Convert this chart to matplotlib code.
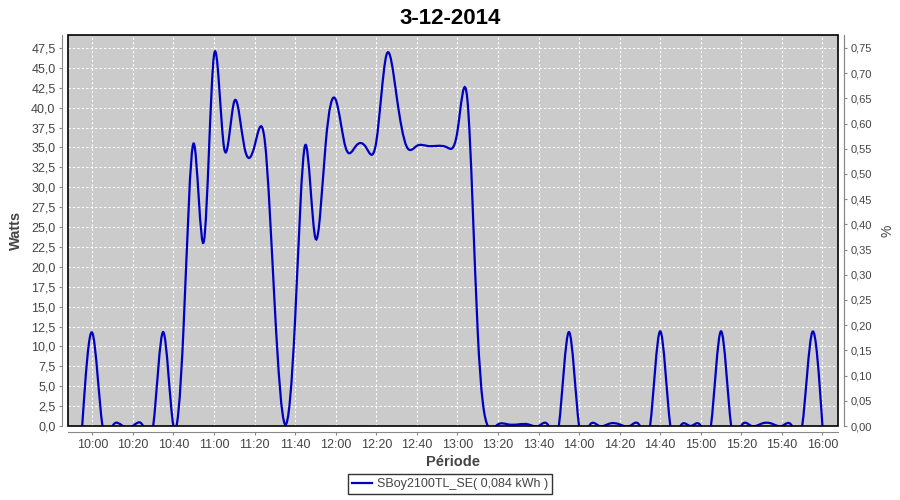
import numpy as np
import pandas as pd
import matplotlib
matplotlib.use("Agg")
import matplotlib.pyplot as plt
import matplotlib.dates as mdates
from matplotlib.path import Path
from matplotlib.patches import PathPatch, Rectangle
from matplotlib.lines import Line2D
from matplotlib.ticker import FuncFormatter, MultipleLocator

# 5 minute samples, 09:55 -> 16:00
times = pd.date_range("2014-12-03 09:55", "2014-12-03 16:00", freq="5min")
watts = [
    0.0, 11.7, 0.0, 0.0, 0.0, 0.0, 0.0, 0.0,          # 09:55 - 10:30
    11.8, 0.0, 12.5, 35.5, 23.2, 46.6, 34.9, 40.8,    # 10:35 - 11:10
    35.0, 35.2, 35.9, 14.8, 0.2, 13.5, 35.3, 23.6,    # 11:15 - 11:50
    35.3, 41.0, 34.9, 35.2, 35.0, 35.7, 46.6, 41.5,   # 11:55 - 12:30
    35.1, 35.2, 35.2, 35.2, 35.0, 37.0, 40.8, 12.0,   # 12:35 - 13:10
    0.0, 0.2, 0.2, 0.2, 0.2, 0.0, 0.0, 0.0,           # 13:15 - 13:50
    11.8, 0.0, 0.0, 0.0, 0.3, 0.2, 0.0, 0.0,          # 13:55 - 14:30
    0.0, 11.9, 0.0, 0.0, 0.0, 0.0, 0.0, 11.9,         # 14:35 - 15:10
    0.0, 0.0, 0.0, 0.3, 0.3, 0.0, 0.0, 0.0,           # 15:15 - 15:50
    11.8, 0.0,                                        # 15:55 - 16:00
]
series_name = "SBoy2100TL_SE( 0,084 kWh )"
chart_title = "3-12-2014"

plt.rcParams["font.family"] = ["Liberation Sans", "DejaVu Sans"]
grey = "#444444"

x = mdates.date2num(times.to_pydatetime())
y = np.array(watts, dtype=float)


# smooth line through the samples (natural cubic spline drawn as bezier curves)
def spline_path(xd, yv):
    t = (xd - xd[0]) * 1440.0
    n = len(t)
    h = np.diff(t)
    A = np.zeros((n, n))
    b = np.zeros(n)
    A[0, 0] = A[-1, -1] = 1.0
    for i in range(1, n - 1):
        A[i, i - 1] = h[i - 1]
        A[i, i] = 2 * (h[i - 1] + h[i])
        A[i, i + 1] = h[i]
        b[i] = 6 * ((yv[i + 1] - yv[i]) / h[i] - (yv[i] - yv[i - 1]) / h[i - 1])
    M = np.linalg.solve(A, b)
    verts = [(xd[0], yv[0])]
    codes = [Path.MOVETO]
    for i in range(n - 1):
        s = (yv[i + 1] - yv[i]) / h[i]
        d0 = s - h[i] * (2 * M[i] + M[i + 1]) / 6
        d1 = s + h[i] * (M[i] + 2 * M[i + 1]) / 6
        dx = (xd[i + 1] - xd[i]) / 3
        verts += [(xd[i] + dx, yv[i] + h[i] / 3 * d0),
                  (xd[i + 1] - dx, yv[i + 1] - h[i] / 3 * d1),
                  (xd[i + 1], yv[i + 1])]
        codes += [Path.CURVE4] * 3
    return Path(verts, codes)


fig = plt.figure(figsize=(9, 5), dpi=100)
ax = fig.add_axes([68 / 900, 1 - 426 / 500, 770 / 900, 391 / 500])
ax.set_facecolor("#cbcbcb")

line_color = "#0000c0"
ax.add_patch(PathPatch(spline_path(x, y), fill=False, edgecolor=line_color, lw=1.6))

ymax = 49.13
ax.set_ylim(0, ymax)
ax.set_xlim(mdates.date2num(pd.Timestamp("2014-12-03 09:48")),
            mdates.date2num(pd.Timestamp("2014-12-03 16:07:40")))

ax.xaxis.set_major_locator(mdates.MinuteLocator(byminute=[0, 20, 40]))
ax.xaxis.set_major_formatter(mdates.DateFormatter("%H:%M"))
ax.yaxis.set_major_locator(MultipleLocator(2.5))
ax.yaxis.set_major_formatter(FuncFormatter(lambda v, p: f"{v:.1f}".replace(".", ",")))

ax.grid(True, color="white", linestyle=(0, (2, 2)), linewidth=0.8)
ax.set_axisbelow(True)

for side in ["left", "bottom", "right"]:
    ax.spines[side].set_position(("outward", 4))
    ax.spines[side].set_color("#888888")
ax.spines["top"].set_visible(False)
ax.add_patch(Rectangle((0, 0), 1, 1, transform=ax.transAxes, fill=False,
                       edgecolor="black", lw=1.2, clip_on=False, zorder=5))

ax.tick_params(axis="both", colors="#888888", labelcolor=grey, length=2, width=0.8,
               labelsize=9, pad=3)

ax2 = ax.twinx()
ax2.set_ylim(0, ymax * 0.75 / 47.5)
ax2.yaxis.set_major_locator(MultipleLocator(0.05))
ax2.yaxis.set_major_formatter(FuncFormatter(lambda v, p: f"{v:.2f}".replace(".", ",")))
for side in ["left", "bottom", "top"]:
    ax2.spines[side].set_visible(False)
ax2.spines["right"].set_position(("outward", 4))
ax2.spines["right"].set_color("#888888")
ax2.tick_params(axis="y", colors="#888888", labelcolor=grey, length=2, width=0.8,
                labelsize=8, pad=3)

ax.set_ylabel("Watts", fontsize=10.5, fontweight="bold", color=grey, labelpad=6)
ax.set_xlabel("Période", fontsize=10.5, fontweight="bold", color=grey, labelpad=3)
ax2.set_ylabel("%", fontsize=10, color=grey, labelpad=6)
fig.suptitle(chart_title, fontsize=16, fontweight="bold", y=0.985, va="top")

handle = Line2D([], [], color=line_color, lw=1.6)
leg = fig.legend([handle], [series_name], loc="lower center", bbox_to_anchor=(0.5, 0.0),
                 fontsize=9, frameon=True, fancybox=False, edgecolor="black",
                 borderpad=0.3, handlelength=1.6, handletextpad=0.4)
leg.get_frame().set_linewidth(1.0)
for txt in leg.get_texts():
    txt.set_color(grey)

fig.savefig("out.png", dpi=100, facecolor="white")
